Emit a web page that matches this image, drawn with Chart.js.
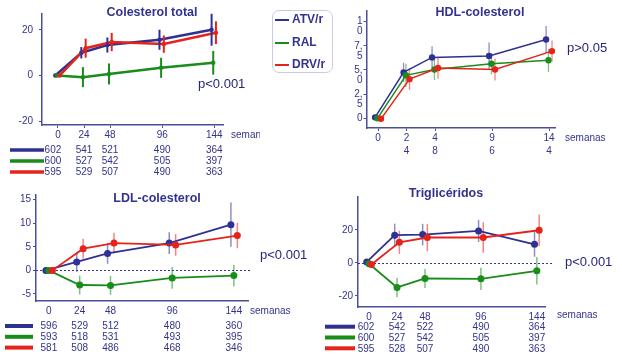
<!DOCTYPE html>
<html><head><meta charset="utf-8">
<script src="https://cdn.jsdelivr.net/npm/chart.js@4.4.1/dist/chart.umd.min.js"></script>
<style>
body{margin:0;background:#fff;}
#wrap{position:relative;width:622px;height:357px;overflow:hidden;background:#fff;font-family:"Liberation Sans",Arial,sans-serif;}
canvas{position:absolute;}
.t{position:absolute;transform:translate(-50%,-50%);font-weight:bold;font-size:12.5px;color:#33338f;white-space:nowrap;z-index:2;}
.p{position:absolute;font-size:13px;color:#26267a;white-space:nowrap;transform:translateY(-50%);z-index:2;}
#legend{position:absolute;left:272px;top:10px;width:59px;height:61px;border:1px solid #c8cce0;border-radius:7px;background:#fff;z-index:3;}
.li{position:absolute;left:2px;font-weight:bold;font-size:12px;color:#33338f;white-space:nowrap;transform:translateY(-50%);}
.li span{display:inline-block;width:14px;height:2px;vertical-align:middle;margin-right:3px;}
</style></head>
<body>
<div id="wrap">
  <canvas id="c1" width="260" height="180" style="left:0;top:0"></canvas>
  <canvas id="c2" width="292" height="180" style="left:330px;top:0"></canvas>
  <canvas id="c3" width="310" height="177" style="left:0;top:180px"></canvas>
  <canvas id="c4" width="312" height="177" style="left:310px;top:180px"></canvas>
  <div class="t" style="left:152px;top:12px">Colesterol total</div>
  <div class="t" style="left:480px;top:12px">HDL-colesterol</div>
  <div class="t" style="left:157px;top:198px">LDL-colesterol</div>
  <div class="t" style="left:446px;top:193px">Triglicéridos</div>
  <div class="p" style="left:198px;top:83px">p&lt;0.001</div>
  <div class="p" style="left:567px;top:47px">p&gt;0.05</div>
  <div class="p" style="left:260px;top:254px">p&lt;0.001</div>
  <div class="p" style="left:565px;top:261px">p&lt;0.001</div>
  <div id="legend"></div>
</div>
<script>
// ---------- data ----------
const weeks = [0, 24, 48, 96, 144];
const weekLabels = ['0', '24', '48', '96', '144'];
const weekLabelsHDL = [['0'], ['2', '4'], ['4', '8'], ['9', '6'], ['14', '4']];
const seriesNames = ['ATV/r', 'RAL', 'DRV/r'];

// Colesterol total (change from baseline)
const ctTicks = [-20, 0, 20];
const ctATV = [0, 10.0, 13.4, 15.7, 20.1];
const ctRAL = [0, -0.7, 0.7, 3.4, 5.6];
const ctDRV = [0, 12.0, 14.7, 13.8, 18.8];
const ctATVerr = [0, 2.5, 3.3, 4.4, 7.0];
const ctRALerr = [0, 4.4, 4.6, 4.4, 5.2];
const ctDRVerr = [0, 4.2, 4.0, 3.8, 5.0];
const ctN_ATV = [602, 541, 521, 490, 364];
const ctN_RAL = [600, 527, 542, 505, 397];
const ctN_DRV = [595, 529, 507, 490, 363];

// HDL-colesterol
const hdlTicks = [0, 2.5, 5, 7.5, 10];
const hdlTickLabels = [['0', ''], ['2,', '5'], ['5,', '0'], ['7,', '5'], ['1', '0']];
const hdlATV = [0.1, 4.75, 6.3, 6.45, 8.15];
const hdlRAL = [0, 4.45, 5.05, 5.65, 6.0];
const hdlDRV = [-0.05, 4.05, 5.2, 5.05, 6.95];
const hdlATVerr = [0, 1.0, 1.15, 1.4, 1.4];
const hdlRALerr = [0, 1.2, 1.1, 1.1, 1.2];
const hdlDRVerr = [0, 1.1, 1.1, 1.15, 1.1];

// LDL-colesterol
const ldlTicks = [-5, 0, 5, 10, 15];
const ldlATV = [0, 1.8, 3.6, 5.8, 9.7];
const ldlRAL = [0, -3.1, -3.2, -1.6, -1.1];
const ldlDRV = [0, 4.6, 5.8, 5.4, 7.4];
const ldlATVerr = [0, 2.1, 2.2, 2.3, 4.7];
const ldlRALerr = [0, 2.0, 2.0, 2.3, 2.3];
const ldlDRVerr = [0, 2.1, 2.2, 2.3, 2.7];
const ldlN_ATV = [596, 529, 512, 480, 360];
const ldlN_RAL = [593, 518, 531, 493, 395];
const ldlN_DRV = [581, 508, 486, 468, 346];

// Triglicéridos
const tgTicks = [-20, 0, 20];
const tgATV = [0.6, 16.8, 17.2, 19.4, 11.3];
const tgRAL = [-0.5, -14.9, -9.5, -9.7, -4.8];
const tgDRV = [-1.0, 12.5, 15.4, 15.4, 19.8];
const tgATVerr = [0, 7.0, 6.5, 6.7, 7.6];
const tgRALerr = [0, 5.8, 5.8, 6.8, 8.3];
const tgDRVerr = [0, 7.0, 8.3, 9.3, 9.6];
const tgN_ATV = [602, 542, 522, 490, 364];
const tgN_RAL = [600, 527, 542, 505, 397];
const tgN_DRV = [595, 528, 507, 490, 363];

// ---------- style ----------
const seriesColors = ['#2e3192', '#1a8c1a', '#e5231b'];
const navy = '#33338a';
const axisColor = '#4b4f9a';
const FONT = '"Liberation Sans", Arial, sans-serif';
Chart.defaults.font.family = FONT;

function rgba(hex, a) {
  const n = parseInt(hex.slice(1), 16);
  return `rgba(${(n >> 16) & 255},${(n >> 8) & 255},${n & 255},${a})`;
}

// legend
const leg = document.getElementById('legend');
[8, 31, 53].forEach((y, k) => {
  const d = document.createElement('div');
  d.className = 'li'; d.style.top = y + 'px';
  d.innerHTML = `<span style="background:${seriesColors[k]}"></span>${seriesNames[k]}`;
  leg.appendChild(d);
});

const extras = {
  id: 'extras',
  beforeDatasetsDraw(chart, args, o) {
    const ctx = chart.ctx, ca = chart.chartArea, ys = chart.scales.y;
    if (o.zeroLine) {
      ctx.save();
      ctx.strokeStyle = navy; ctx.lineWidth = 1; ctx.setLineDash([2, 2]);
      const y = Math.round(ys.getPixelForValue(0)) + 0.5;
      ctx.beginPath(); ctx.moveTo(ca.left, y); ctx.lineTo(ca.right + o.zeroLine, y); ctx.stroke();
      ctx.restore();
    }
    if (!o.barsOnTop) drawBars(chart, o);
  },
  afterDatasetsDraw(chart, args, o) { if (o.barsOnTop) drawBars(chart, o); },
  afterDraw(chart, args, o) {
    const ctx = chart.ctx, xs = chart.scales.x;
    ctx.save();
    ctx.fillStyle = navy; ctx.font = '10px ' + FONT; ctx.textBaseline = 'middle';
    ctx.textAlign = 'left';
    ctx.fillText('semanas', o.semanas[0], o.semanas[1]);
    if (o.table) {
      const t = o.table;
      t.rows.forEach((row, r) => {
        const y = t.y0 + r * t.dy;
        ctx.strokeStyle = seriesColors[r]; ctx.lineWidth = t.lw; ctx.setLineDash([]);
        ctx.beginPath(); ctx.moveTo(t.x0, y); ctx.lineTo(t.x1, y); ctx.stroke();
        ctx.textAlign = 'center';
        row.forEach((n, i) => {
          ctx.fillText(String(n), xs.getPixelForValue(weeks[i]) + (i === 0 ? t.firstDx : 0), y + 0.5);
        });
      });
    }
    ctx.restore();
  }
};
function drawBars(chart, o) {
  const ctx = chart.ctx, xs = chart.scales.x, ys = chart.scales.y;
  ctx.save();
  chart.data.datasets.forEach((ds, k) => {
    ctx.strokeStyle = ds.errColor; ctx.lineWidth = o.barWidth;
    ds.data.forEach((p, i) => {
      const e = ds.errors[i]; if (!e) return;
      const x = xs.getPixelForValue(p.x);
      ctx.beginPath();
      ctx.moveTo(x, ys.getPixelForValue(p.y + e));
      ctx.lineTo(x, ys.getPixelForValue(p.y - e));
      ctx.stroke();
    });
  });
  ctx.restore();
}

function makePanel(c) {
  const datasets = c.series.map((s, k) => ({
    label: seriesNames[k],
    data: weeks.map((w, i) => ({ x: w + c.jitter[k], y: s[0][i] })),
    errors: s[1],
    errColor: c.barAlpha === 1 ? seriesColors[k] : rgba(seriesColors[k], c.barAlpha),
    borderColor: seriesColors[k], backgroundColor: seriesColors[k],
    borderWidth: c.lineWidth, pointRadius: c.pointRadius, pointBorderWidth: 0,
    pointHoverRadius: c.pointRadius, tension: 0, order: 3 - k
  }));
  new Chart(document.getElementById(c.id), {
    type: 'line',
    data: { datasets },
    options: {
      responsive: false, animation: false, events: [],
      layout: { padding: { left: 0, top: c.padTop, right: c.padRight, bottom: 0 } },
      plugins: { legend: { display: false }, tooltip: { enabled: false }, extras: c.extras },
      scales: {
        x: {
          type: 'linear', min: c.xRange[0], max: c.xRange[1],
          afterBuildTicks: s => { s.ticks = weeks.map(v => ({ value: v })); },
          afterFit: s => { s.height = c.xH; },
          border: { display: true, color: axisColor, width: 1.5 },
          grid: { display: true, drawOnChartArea: false, drawTicks: c.xTickMarks, tickLength: 3, color: axisColor },
          ticks: {
            autoSkip: false, maxRotation: 0, padding: c.xPad, color: navy,
            font: { size: 10, lineHeight: 1.25 },
            callback: v => c.xLabels[weeks.indexOf(v)]
          }
        },
        y: {
          type: 'linear', min: c.yRange[0], max: c.yRange[1],
          afterBuildTicks: s => { s.ticks = c.yTicks.map(v => ({ value: v })); },
          afterFit: s => { s.width = c.yW; },
          border: { display: true, color: axisColor, width: 1.5 },
          grid: { display: true, drawOnChartArea: false, drawTicks: true, tickLength: 3, color: axisColor },
          ticks: {
            padding: c.yPad, color: navy, labelOffset: c.yLabelOffset || 0,
            font: { size: 10, lineHeight: c.yLineHeight || 1.2 },
            callback: v => c.yLabels ? c.yLabels[c.yTicks.indexOf(v)] : String(v)
          }
        }
      }
    },
    plugins: [extras]
  });
}

makePanel({
  id: 'c1', series: [[ctATV, ctATVerr], [ctRAL, ctRALerr], [ctDRV, ctDRVerr]],
  jitter: [-2.5, -1, 1.5], lineWidth: 2.5, pointRadius: 2.2, barAlpha: 1,
  xRange: [-14.7, 152], yRange: [-21.7, 27], yTicks: ctTicks, xLabels: weekLabels,
  padTop: 14, padRight: 37, xH: 55, yW: 42, xPad: 1, yPad: 6, xTickMarks: true,
  extras: { barsOnTop: true, barWidth: 2, semanas: [231, 135],
    table: { rows: [ctN_ATV, ctN_RAL, ctN_DRV], y0: 150, dy: 11, x0: 10, x1: 44, lw: 3.3, firstDx: -5 } }
});
makePanel({
  id: 'c2', series: [[hdlATV, hdlATVerr], [hdlRAL, hdlRALerr], [hdlDRV, hdlDRVerr]],
  jitter: [-2.5, -0.5, 2.5], lineWidth: 1.5, pointRadius: 3.2, barAlpha: 0.55,
  xRange: [-9.7, 149], yRange: [-1.0, 11.1], yTicks: hdlTicks, yLabels: hdlTickLabels,
  yLabelOffset: 5, yLineHeight: 1.0, xLabels: weekLabelsHDL,
  padTop: 8, padRight: 67, xH: 52, yW: 36.5, xPad: 1, yPad: 1, xTickMarks: true,
  extras: { barsOnTop: false, barWidth: 1.3, semanas: [235, 138] }
});
makePanel({
  id: 'c3', series: [[ldlATV, ldlATVerr], [ldlRAL, ldlRALerr], [ldlDRV, ldlDRVerr]],
  jitter: [-2.3, 0, 2.7], lineWidth: 1.8, pointRadius: 3.5, barAlpha: 0.55,
  xRange: [-10, 155], yRange: [-6.5, 16], yTicks: ldlTicks, xLabels: weekLabels,
  padTop: 15, padRight: 62, xH: 56, yW: 36, xPad: 4, yPad: 2, xTickMarks: false,
  extras: { barsOnTop: false, barWidth: 1.5, zeroLine: 2, semanas: [250, 131],
    table: { rows: [ldlN_ATV, ldlN_RAL, ldlN_DRV], y0: 146, dy: 10.8, x0: 5, x1: 33, lw: 4, firstDx: 0 } }
});
makePanel({
  id: 'c4', series: [[tgATV, tgATVerr], [tgRAL, tgRALerr], [tgDRV, tgDRVerr]],
  jitter: [-2, 0, 2], lineWidth: 1.8, pointRadius: 3.5, barAlpha: 0.55,
  xRange: [-9.5, 151], yRange: [-26.8, 40], yTicks: tgTicks, xLabels: weekLabels,
  padTop: 17, padRight: 77, xH: 50, yW: 48, xPad: 4, yPad: 2, xTickMarks: false,
  extras: { barsOnTop: false, barWidth: 1.5, zeroLine: 8, semanas: [247, 135],
    table: { rows: [tgN_ATV, tgN_RAL, tgN_DRV], y0: 146.7, dy: 10.8, x0: 15, x1: 45, lw: 4, firstDx: -3 } }
});
</script>
</body></html>
